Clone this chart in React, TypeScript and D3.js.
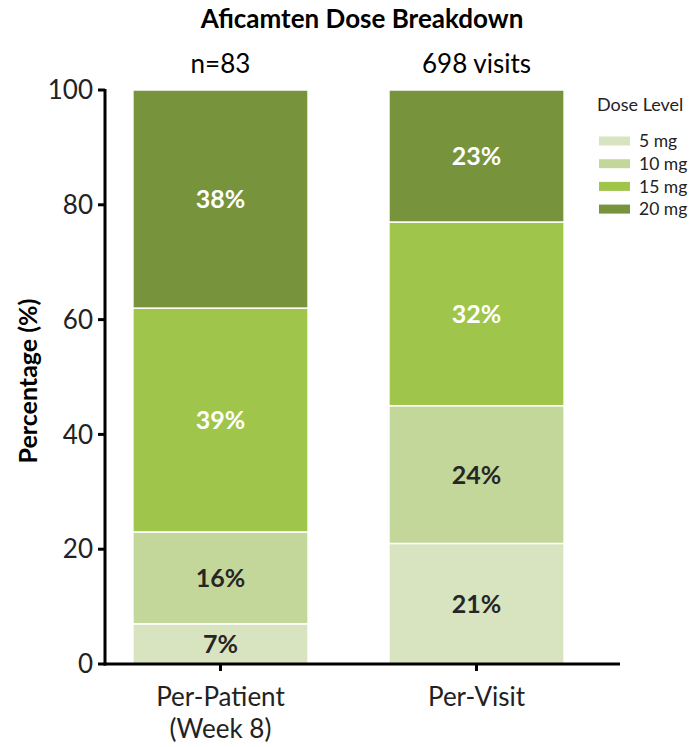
import React from "react";
import * as d3 from "d3";

const categories = ["Per-Patient|(Week 8)", "Per-Visit"];
const headers = ["n=83", "698 visits"];
const doseLevels = ["5 mg", "10 mg", "15 mg", "20 mg"];
const perPatient = [7, 16, 39, 38];
const perVisit = [21, 24, 32, 23];
const yTicks = [0, 20, 40, 60, 80, 100];
const colors = ["#d8e4bf", "#c4d79b", "#9fc54a", "#77933c"];
const labelColors = ["#262626", "#262626", "#ffffff", "#ffffff"];

const FONT = "Lato, 'Open Sans', sans-serif";

export default function App() {
  const width = 694;
  const height = 747;
  const left = 105;
  const top = 90;
  const bottom = 664;
  const axisRight = 620;

  const series = [perPatient, perVisit];
  const y = d3.scaleLinear().domain([0, 100]).range([bottom, top]);
  const x = d3.scaleBand().domain(categories).range([left, 592]).paddingInner(0.316).paddingOuter(0.109);

  const rows = categories.map((c, i) => {
    const r: any = {cat: c};
    doseLevels.forEach((d, j) => (r[d] = series[i][j]));
    return r;
  });
  const stacked = d3.stack().keys(doseLevels)(rows);

  return (
    <svg width={width} height={height} style={{position: "absolute", left: 0, top: 0}} fontFamily={FONT}>
      <text x={362} y={28} textAnchor="middle" fontSize={26} fontWeight="bold" fill="#000">
        Aficamten Dose Breakdown
      </text>
      {categories.map((c, i) => (
        <text key={c} x={x(c)! + x.bandwidth() / 2} y={73} textAnchor="middle" fontSize={26} fill="#000">
          {headers[i]}
        </text>
      ))}
      {stacked.map((layer, j) => (
        <g key={layer.key}>
          {layer.map((seg, i) => {
            const c = categories[i];
            const y0 = y(seg[0]);
            const y1 = y(seg[1]);
            return (
              <g key={c}>
                <rect x={x(c)} y={y1} width={x.bandwidth()} height={y0 - y1} fill={colors[j]} stroke="#fff" strokeWidth={1.5} />
                <text x={x(c)! + x.bandwidth() / 2} y={(y0 + y1) / 2} dy="0.36em" textAnchor="middle" fontSize={25} fontWeight="bold" fill={labelColors[j]}>
                  {series[i][j]}%
                </text>
              </g>
            );
          })}
        </g>
      ))}
      {/* axes */}
      <line x1={left} x2={left} y1={top - 1} y2={bottom + 1.5} stroke="#000" strokeWidth={3} />
      <line x1={left - 1.5} x2={axisRight} y1={bottom} y2={bottom} stroke="#000" strokeWidth={3} />
      {yTicks.map(t => (
        <g key={t}>
          <line x1={left - 7} x2={left} y1={y(t)} y2={y(t)} stroke="#000" strokeWidth={3} />
          <text x={left - 12} y={y(t)} dy="0.35em" textAnchor="end" fontSize={26} fill="#222">{t}</text>
        </g>
      ))}
      {categories.map(c => {
        const cx = x(c)! + x.bandwidth() / 2;
        return (
          <g key={c}>
            <line x1={cx} x2={cx} y1={bottom} y2={bottom + 7} stroke="#000" strokeWidth={3} />
            {c.split("|").map((s, k) => (
              <text key={k} x={cx} y={706 + k * 32} textAnchor="middle" fontSize={26} fill="#222">{s}</text>
            ))}
          </g>
        );
      })}
      <text transform={`translate(37,381) rotate(-90)`} textAnchor="middle" fontSize={25} fontWeight="bold" fill="#000">
        Percentage (%)
      </text>
      {/* legend */}
      <text x={597} y={111} fontSize={18} fill="#222">Dose Level</text>
      {doseLevels.map((d, j) => (
        <g key={d} transform={`translate(599,${141 + j * 22.7})`}>
          <rect x={0} y={-4.5} width={31} height={9} fill={colors[j]} />
          <text x={40} y={0} dy="0.35em" fontSize={17.5} fill="#222">{d}</text>
        </g>
      ))}
    </svg>
  );
}
